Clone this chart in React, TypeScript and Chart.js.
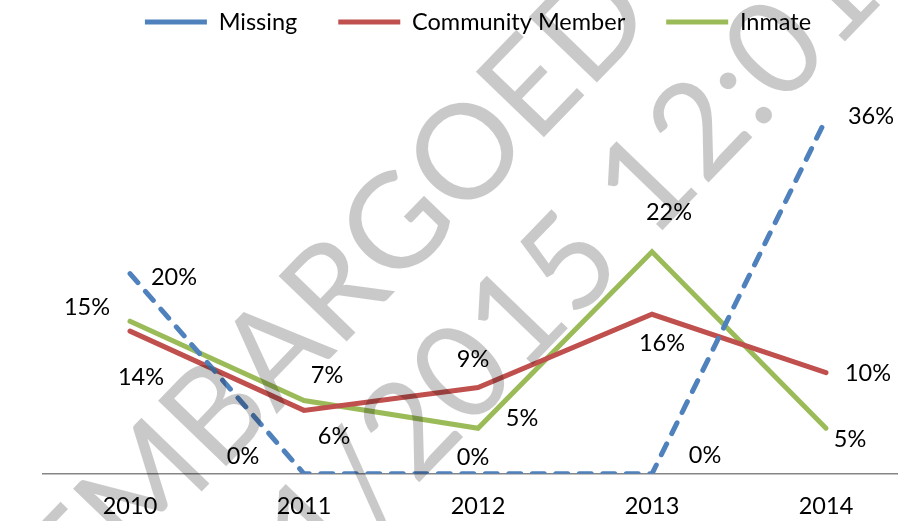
import { useEffect, useRef } from "react";
import { Chart, registerables } from "chart.js";

Chart.register(...registerables);

const years = ["2010", "2011", "2012", "2013", "2014"];
const missing = [20.2, 0, 0, 0, 35.8];
const community = [14.4, 6.4, 8.7, 16.1, 10.2];
const inmate = [15.4, 7.4, 4.6, 22.4, 4.6];

const missingLabelOffsets = [[44, 4], [-61, -17], [-5, -16], [53, -18], [45, -3]];
const communityLabelOffsets = [[11, 46], [30, 26], [-5, -28], [10, 29], [42, 1]];
const inmateLabelOffsets = [[-43, -14], [23, -25], [44, -10], [17, -39], [24, 11]];
const labelOffsets = [missingLabelOffsets, communityLabelOffsets, inmateLabelOffsets];

const watermarkLine1 = "EMBARGOED";
const watermarkLine2 = "11/2015 12:01 AM";

const FONT = "Lato, 'Open Sans', sans-serif";
const FS = 23.5;

const dataLabelsPlugin = {
  id: "pctLabels",
  afterDatasetsDraw(chart: any) {
    const ctx = chart.ctx;
    ctx.save();
    ctx.font = `${FS}px ${FONT}`;
    ctx.fillStyle = "#000";
    ctx.textAlign = "center";
    ctx.textBaseline = "middle";
    chart.data.datasets.forEach((ds: any, di: number) => {
      const meta = chart.getDatasetMeta(di);
      meta.data.forEach((pt: any, i: number) => {
        const off = labelOffsets[di][i];
        ctx.fillText(Math.round(ds.data[i]) + "%", pt.x + off[0], pt.y + off[1]);
      });
    });
    ctx.restore();
  },
};

const watermarkPlugin = {
  id: "watermark",
  afterDraw(chart: any) {
    const ctx = chart.ctx;
    const size = 132;
    const capH = size * 0.72;
    const ang = (-46 * Math.PI) / 180;
    ctx.save();
    ctx.fillStyle = "rgba(0,0,0,0.21)";
    ctx.font = `400 ${size}px ${FONT}`;
    ctx.textAlign = "left";
    ctx.textBaseline = "alphabetic";
    ctx.translate(395, 223);
    ctx.rotate(ang);
    const d1 = ctx.measureText("EMBAR").width + ctx.measureText("G").width / 2;
    ctx.fillText(watermarkLine1, -d1, capH / 2);
    const d2 = ctx.measureText("11/2015 1").width + ctx.measureText("2").width / 2;
    ctx.fillText(watermarkLine2, 279 - d2, 150 + capH / 2);
    ctx.restore();
  },
};

export default function App() {
  const ref = useRef<HTMLCanvasElement | null>(null);
  useEffect(() => {
    if (!ref.current) return;
    const chart = new Chart(ref.current, {
      type: "line",
      data: {
        labels: years,
        datasets: [
          {
            label: "Missing",
            data: missing,
            borderColor: "#4F81BD",
            backgroundColor: "#4F81BD",
            borderWidth: 5,
            borderDash: [12, 11.5],
            borderCapStyle: "round",
            pointRadius: 0,
            tension: 0,
          },
          {
            label: "Community Member",
            data: community,
            borderColor: "#C0504D",
            backgroundColor: "#C0504D",
            borderWidth: 5,
            borderCapStyle: "round",
            pointRadius: 0,
            tension: 0,
          },
          {
            label: "Inmate",
            data: inmate,
            borderColor: "#9BBB59",
            backgroundColor: "#9BBB59",
            borderWidth: 5,
            borderCapStyle: "round",
            pointRadius: 0,
            tension: 0,
          },
        ],
      },
      options: {
        animation: false,
        responsive: false,
        layout: { padding: { top: -30.75, left: 43, right: 0, bottom: -19 } },
        plugins: {
          legend: {
            position: "top",
            labels: {
              usePointStyle: true,
              pointStyle: "line",
              pointStyleWidth: 62,
              padding: 41,
              color: "#000",
              font: { size: FS, family: FONT },
            },
          },
          tooltip: { enabled: false },
        },
        scales: {
          x: {
            offset: true,
            grid: { display: false, drawTicks: false },
            border: { display: true, color: "#868686", width: 1.5 },
            ticks: { color: "#000", font: { size: FS, family: FONT }, padding: 19 },
          },
          y: { display: false, min: 0, max: 43.4 },
        },
      },
      plugins: [dataLabelsPlugin, watermarkPlugin],
    });
    return () => chart.destroy();
  }, []);
  return (
    <div
      style={{
        position: "fixed",
        left: 0,
        top: 0,
        width: 898,
        height: 521,
        overflow: "hidden",
        background: "#fff",
      }}
    >
      <canvas ref={ref} width={913} height={521} style={{ display: "block" }} />
    </div>
  );
}
